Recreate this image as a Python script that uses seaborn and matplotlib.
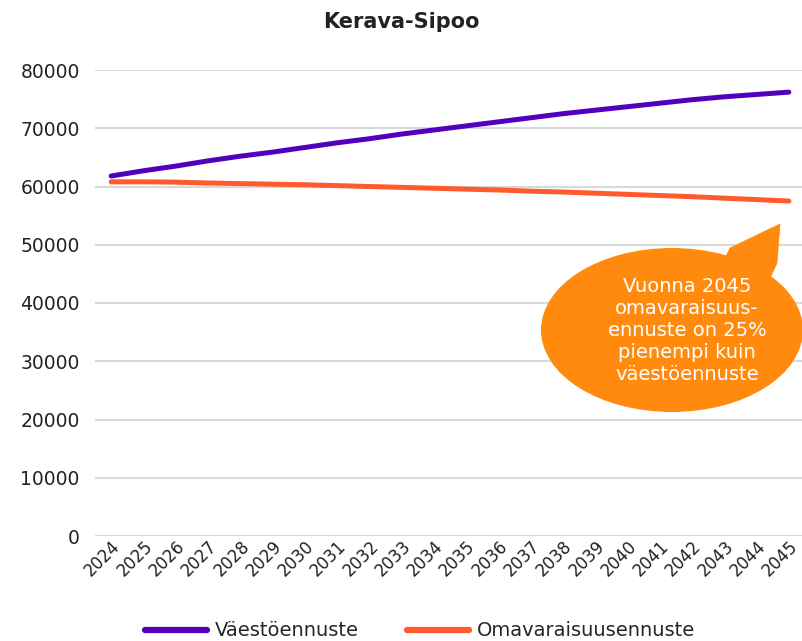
import matplotlib
matplotlib.use("Agg")
import matplotlib.pyplot as plt
import seaborn as sns
import numpy as np
import pandas as pd
from matplotlib.patches import Ellipse, Polygon
from matplotlib.lines import Line2D

years = list(range(2024, 2046))
vaesto = [61800, 62700, 63500, 64400, 65200, 65900, 66700, 67500, 68200, 69000, 69700,
          70400, 71100, 71800, 72500, 73100, 73700, 74300, 74900, 75400, 75800, 76200]
omavara = [60800, 60800, 60750, 60600, 60500, 60400, 60300, 60150, 60000, 59850, 59700,
           59550, 59400, 59200, 59050, 58850, 58650, 58450, 58250, 58000, 57750, 57500]
series_names = ["Väestöennuste", "Omavaraisuusennuste"]
colors = ["#5300BE", "#FF5A2D"]
title = "Kerava-Sipoo"
callout = "Vuonna 2045\nomavaraisuus-\nennuste on 25%\npienempi kuin\nväestöennuste"

df = pd.DataFrame({
    "year": years * 2,
    "value": vaesto + omavara,
    "series": [series_names[0]] * len(years) + [series_names[1]] * len(years),
})

sns.set_style("white")
plt.rcParams["font.family"] = ["DejaVu Sans"]

W, H = 802, 641
fig = plt.figure(figsize=(W / 100, H / 100), dpi=100)
ax = fig.add_axes([95 / W, 1 - 536 / H, 710 / W, 466 / H])

sns.lineplot(data=df, x="year", y="value", hue="series", palette=colors,
             linewidth=3.6, ax=ax, legend=False,
             solid_capstyle="round")

ax.set_ylim(0, 80000)
ax.set_xlim(2023.5, 2045.5)
ax.set_yticks(range(0, 80001, 10000))
ax.set_xticks(years)
ax.set_xticklabels([str(y) for y in years], rotation=45, ha="right",
                   rotation_mode="anchor", fontsize=12, color="#222222")
ax.tick_params(axis="y", labelsize=13.5, colors="#222222", length=0, pad=11)
ax.tick_params(axis="x", length=0, pad=1)
ax.yaxis.grid(True, color="#D9D9D9", linewidth=1.5)
ax.set_axisbelow(True)
for s in ax.spines.values():
    s.set_visible(False)
ax.set_xlabel("")
ax.set_ylabel("")

fig.text(401 / W, 1 - 22 / H, title, ha="center", va="center",
         fontsize=15, fontweight="bold", color="#222222")

# speech bubble
def px(x, y):
    return (x / W, 1 - y / H)

ell = Ellipse(px(672, 330), 262 / W, 164 / H, transform=fig.transFigure,
              facecolor="#FF8A0D", edgecolor="none", zorder=5)
fig.add_artist(ell)
tail = Polygon([px(705, 300), px(730, 248), px(780, 224), px(777, 263), px(760, 300)],
               closed=True, transform=fig.transFigure,
               facecolor="#FF8A0D", edgecolor="#FF8A0D", linewidth=0.5, zorder=5)
fig.add_artist(tail)
fig.text(687 / W, 1 - 331 / H, callout, ha="center", va="center", color="white",
         fontsize=14, fontweight="normal", linespacing=1.2, zorder=6)

handles = [Line2D([0], [0], color=c, linewidth=4.5, solid_capstyle="round") for c in colors]
fig.legend(handles, series_names, loc="center", bbox_to_anchor=(420 / W, 1 - 631 / H),
           ncol=2, frameon=False, fontsize=14, handlelength=3.2, handletextpad=0.4,
           columnspacing=2.5)

fig.savefig("out.png", dpi=100)
